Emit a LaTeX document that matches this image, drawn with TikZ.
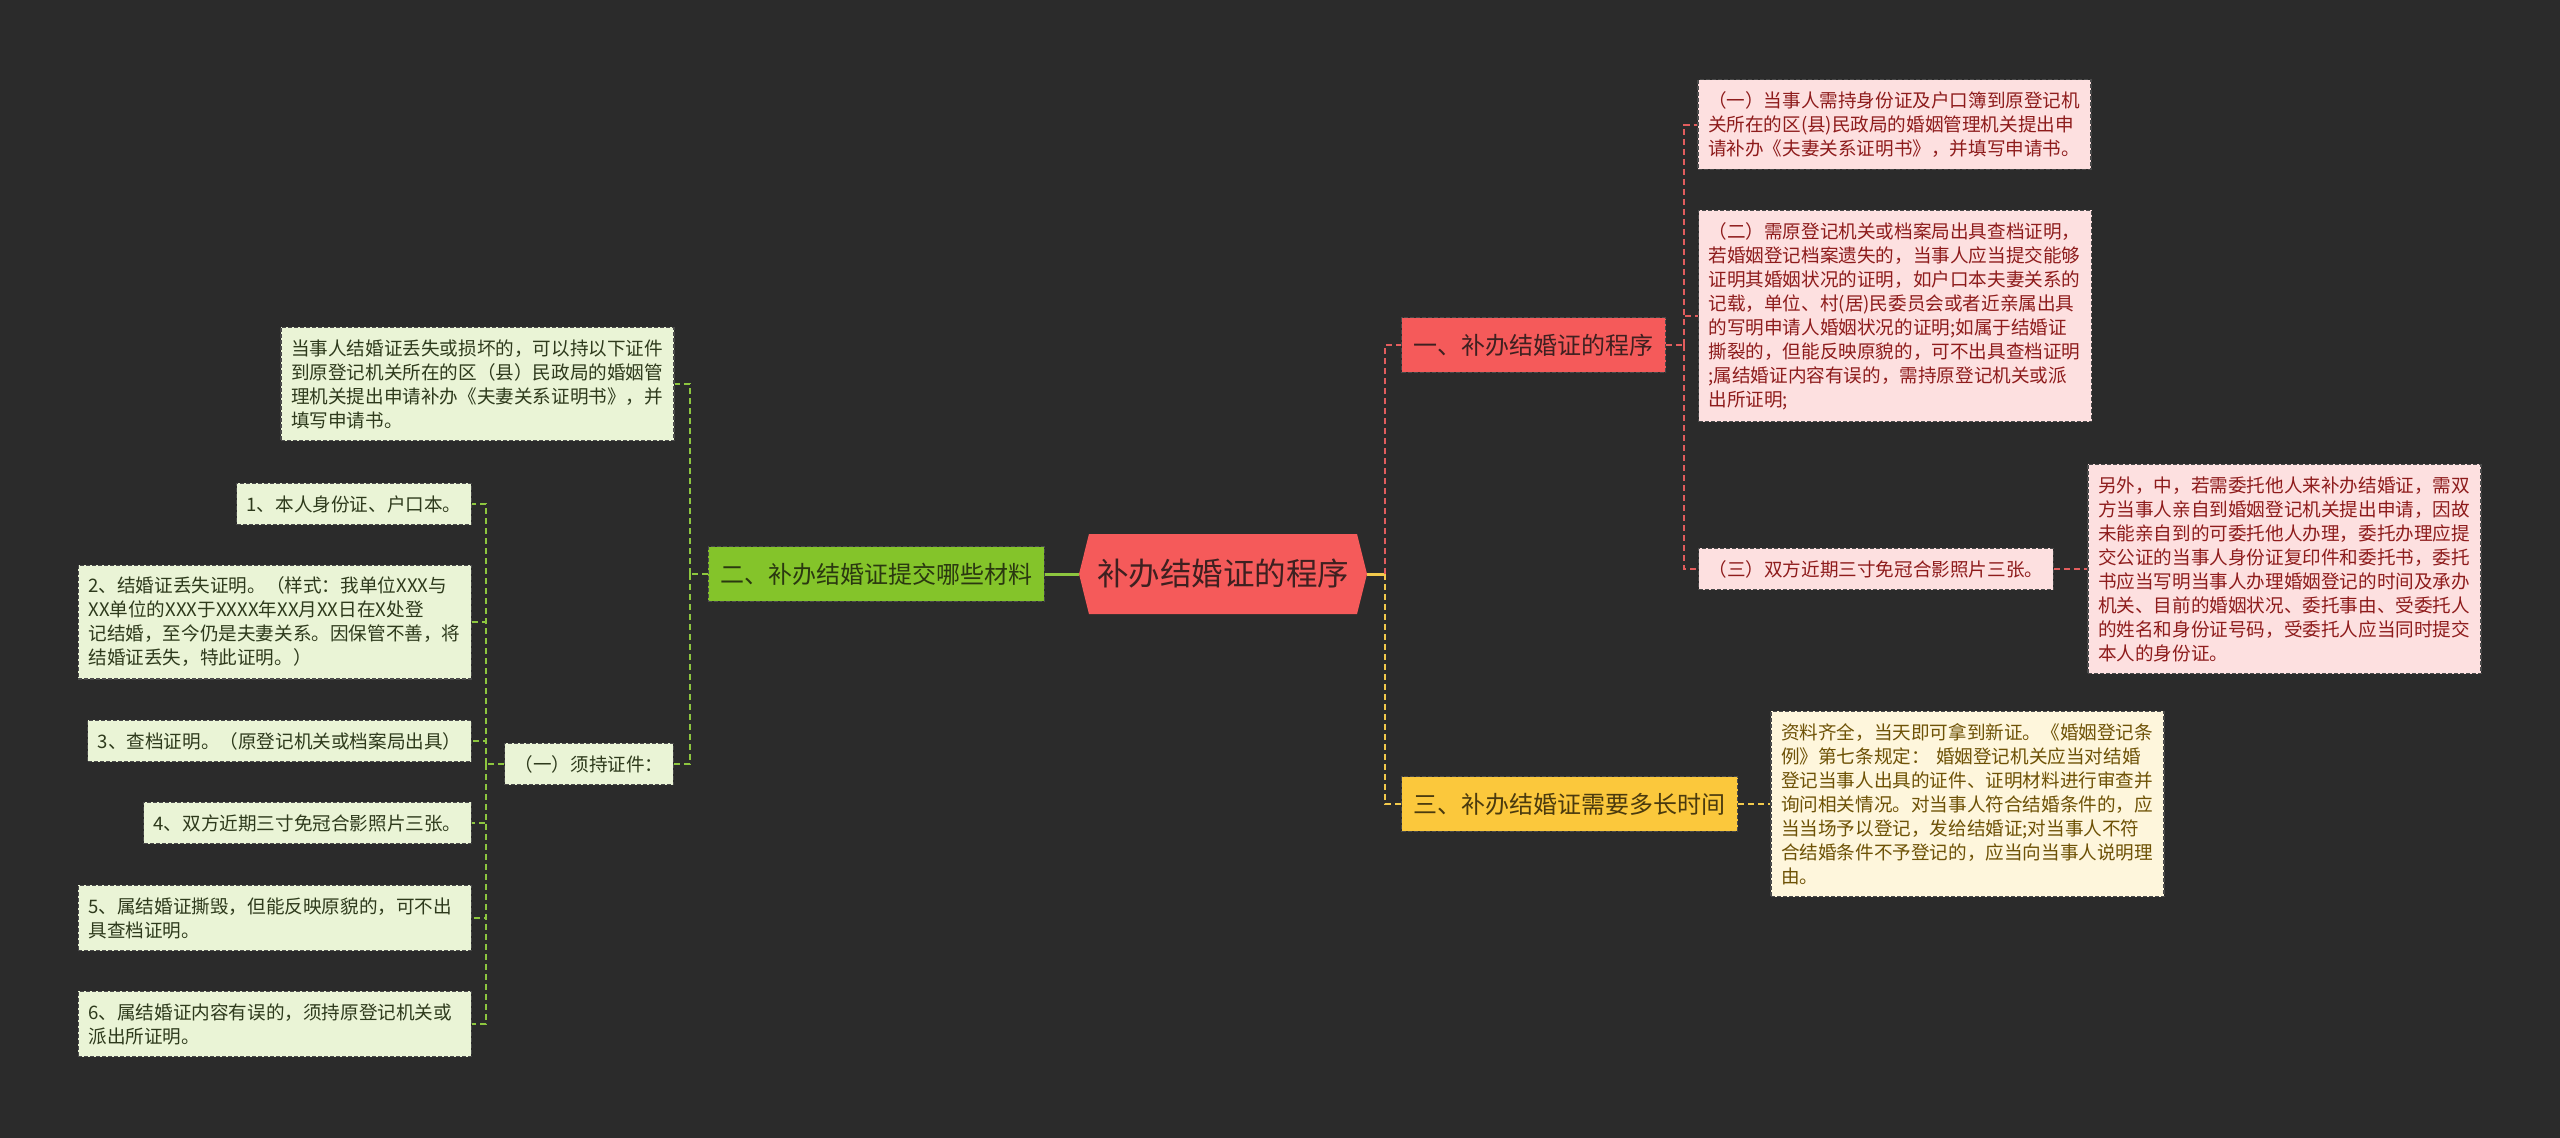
\documentclass[tikz,border=0pt]{standalone}
\usepackage{fontspec}
\setmainfont{Noto Sans CJK SC}
\usetikzlibrary{shapes.symbols}
\definecolor{bg}{HTML}{2B2B2B}
\definecolor{redc}{HTML}{F55A5A}
\definecolor{redtxt}{HTML}{3E2020}
\definecolor{redleaf}{HTML}{FDE0E0}
\definecolor{redleaftxt}{HTML}{8E1C1C}
\definecolor{redline}{HTML}{E25D5D}
\definecolor{grnc}{HTML}{84C42A}
\definecolor{grntxt}{HTML}{2A3810}
\definecolor{grnleaf}{HTML}{EAF4D6}
\definecolor{grnleaftxt}{HTML}{2E3A1C}
\definecolor{grnline}{HTML}{8DC63F}
\definecolor{ylwc}{HTML}{FBC83C}
\definecolor{ylwtxt}{HTML}{4A3A0E}
\definecolor{ylwleaf}{HTML}{FEF6DC}
\definecolor{ylwleaftxt}{HTML}{6E5206}
\definecolor{ylwline}{HTML}{F2C94C}
\definecolor{boxborder}{HTML}{4A4A4A}
\begin{document}
\begin{tikzpicture}[x=1pt,y=-1pt,
  centerbox/.style={signal, signal to=west and east, signal pointer angle=152,
    fill=redc, text=redtxt, minimum width=288pt, minimum height=80pt, inner sep=0pt,
    font=\fontsize{31.5pt}{36pt}\selectfont},
  branchbox/.style={draw=boxborder, dash pattern=on 4pt off 2pt, line width=1.2pt,
    inner xsep=12pt, inner ysep=16pt, font=\fontsize{24pt}{28pt}\selectfont},
  leafbox/.style={draw=boxborder, dash pattern=on 4pt off 2pt, line width=1.1pt,
    inner xsep=10pt, inner ysep=12pt, align=left, font=\fontsize{18.6pt}{24pt}\selectfont},
  widebox/.style={leafbox, text width=373pt},
  redleafbox/.style={fill=redleaf, text=redleaftxt},
  grnleafbox/.style={fill=grnleaf, text=grnleaftxt},
  ylwleafbox/.style={fill=ylwleaf, text=ylwleaftxt},
  conn/.style={line width=2pt, dash pattern=on 6pt off 4pt},
  rconn/.style={conn, draw=redline},
  gconn/.style={conn, draw=grnline},
  yconn/.style={conn, draw=ylwline}
]
\fill[bg] (0,0) rectangle (2560,1138);
\useasboundingbox (0,0) rectangle (2560,1138);

% center
\node[centerbox] (c) at (1223,574) {补办结婚证的程序};

% branches
\node[branchbox, fill=redc, text=redtxt, anchor=west] (b1) at (1401,345) {一、补办结婚证的程序};
\node[branchbox, fill=ylwc, text=ylwtxt, anchor=west] (b3) at (1401,804) {三、补办结婚证需要多长时间};
\node[branchbox, fill=grnc, text=grntxt, anchor=east] (b2) at (1045,574) {二、补办结婚证提交哪些材料};

% red leaves
\node[widebox, redleafbox] (l1) at (1894.5,124.5) {（一）当事人需持身份证及户口簿到原登记机\\关所在的区(县)民政局的婚姻管理机关提出申\\请补办《夫妻关系证明书》，并填写申请书。};
\node[widebox, redleafbox] (l2) at (1895,316) {（二）需原登记机关或档案局出具查档证明，\\若婚姻登记档案遗失的，当事人应当提交能够\\证明其婚姻状况的证明，如户口本夫妻关系的\\记载，单位、村(居)民委员会或者近亲属出具\\的写明申请人婚姻状况的证明;如属于结婚证\\撕裂的，但能反映原貌的，可不出具查档证明\\;属结婚证内容有误的，需持原登记机关或派\\出所证明;};
\node[leafbox, redleafbox, anchor=west] (l3) at (1698,569) {（三）双方近期三寸免冠合影照片三张。};
\node[widebox, redleafbox] (big) at (2284.5,569) {另外，中，若需委托他人来补办结婚证，需双\\方当事人亲自到婚姻登记机关提出申请，因故\\未能亲自到的可委托他人办理，委托办理应提\\交公证的当事人身份证复印件和委托书，委托\\书应当写明当事人办理婚姻登记的时间及承办\\机关、目前的婚姻状况、委托事由、受委托人\\的姓名和身份证号码，受委托人应当同时提交\\本人的身份证。};

% yellow leaf
\node[widebox, ylwleafbox] (y1) at (1967.5,804) {资料齐全，当天即可拿到新证。《婚姻登记条\\例》第七条规定： 婚姻登记机关应当对结婚\\登记当事人出具的证件、证明材料进行审查并\\询问相关情况。对当事人符合结婚条件的，应\\当当场予以登记，发给结婚证;对当事人不符\\合结婚条件不予登记的，应当向当事人说明理\\由。};

% green leaves
\node[widebox, grnleafbox] (g1) at (477.5,384) {当事人结婚证丢失或损坏的，可以持以下证件\\到原登记机关所在的区（县）民政局的婚姻管\\理机关提出申请补办《夫妻关系证明书》，并\\填写申请书。};
\node[leafbox, grnleafbox, anchor=east] (g2) at (674,764) {（一）须持证件：};
\node[leafbox, grnleafbox, anchor=east] (i1) at (472,504) {1、本人身份证、户口本。};
\node[widebox, grnleafbox, anchor=east] (i2) at (472,622) {2、结婚证丢失证明。（样式：我单位XXX与\\XX单位的XXX于XXXX年XX月XX日在X处登\\记结婚，至今仍是夫妻关系。因保管不善，将\\结婚证丢失，特此证明。）};
\node[leafbox, grnleafbox, anchor=east] (i3) at (472,741) {3、查档证明。（原登记机关或档案局出具）};
\node[leafbox, grnleafbox, anchor=east] (i4) at (472,823) {4、双方近期三寸免冠合影照片三张。};
\node[widebox, grnleafbox, anchor=east] (i5) at (472,918) {5、属结婚证撕毁，但能反映原貌的，可不出\\具查档证明。};
\node[widebox, grnleafbox, anchor=east] (i6) at (472,1024) {6、属结婚证内容有误的，须持原登记机关或\\派出所证明。};

% center connectors
\draw[line width=3pt, grnline] (b2.east) -- (c.west);
\coordinate (jr) at (1385,574);
\draw[line width=3pt, ylwline] (c.east) -- (jr);
\draw[rconn] (jr) |- (b1.west);
\draw[yconn] (jr) |- (b3.west);

% red leaf connectors
\draw[rconn] (b1.east) -- ++(18,0) coordinate (jr1);
\draw[rconn] (jr1) |- (l1.west);
\draw[rconn] (jr1) |- (l2.west);
\draw[rconn] (jr1) |- (l3.west);
\draw[rconn] (l3.east) -- (big.west);

% yellow leaf connector
\draw[yconn] (b3.east) -- (y1.west);

% green connectors
\draw[gconn] (b2.west) -- ++(-18,0) coordinate (jl1);
\draw[gconn] (jl1) |- (g1.east);
\draw[gconn] (jl1) |- (g2.east);
\draw[gconn] (g2.west) -- ++(-18,0) coordinate (jl2);
\foreach \n in {i1,i2,i3,i4,i5,i6} {
  \draw[gconn] (jl2) |- (\n.east);
}
\end{tikzpicture}
\end{document}
